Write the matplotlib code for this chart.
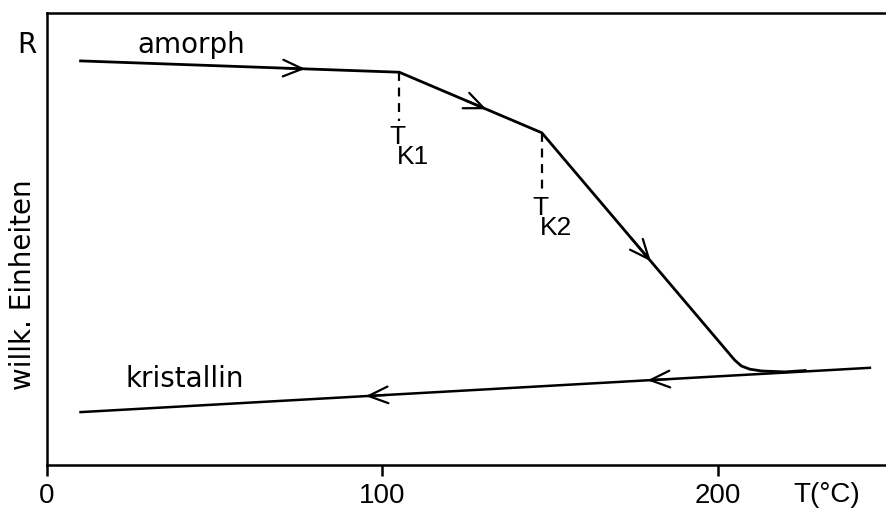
import numpy as np
import matplotlib
matplotlib.use("Agg")
import matplotlib.pyplot as plt

# curve data (T in deg C, R in arbitrary units)
amorph_T = [10, 105, 147.5, 205, 207, 209.5, 213, 220, 226]
amorph_R = [89.4, 86.9, 73.5, 23.2, 21.9, 21.2, 20.8, 20.6, 20.9]
krist_T = [10, 245.3]
krist_R = [11.7, 21.5]

# arrow tips on each curve
amorph_arrow_T = [77, 131, 180]
krist_arrow_T = [179, 95]

# crystallisation temperatures and bottom ends of the dashed markers
tk_T = [105, 147.5]
tk_R = [86.9, 73.5]
tk_bottom = [76.1, 60.4]
tk_names = ["K1", "K2"]

xticks = [0, 100, 200]

WORD = dict(family="DejaVu Sans", fontsize=20)
NUM = dict(family="Liberation Sans", fontsize=20)

fig = plt.figure(figsize=(8.86, 5.11), dpi=100)
ax = fig.add_axes([47 / 886, 46 / 511, 839 / 886, 452 / 511])
ax.set_xlim(0, 250.1)
ax.set_ylim(0, 100)

for s in ["left", "bottom", "top"]:
    ax.spines[s].set_linewidth(1.8)
ax.spines["right"].set_visible(False)

ax.set_xticks(xticks)
ax.set_xticklabels([str(t) for t in xticks], **NUM)
ax.tick_params(axis="x", direction="out", length=8, width=1.8, pad=5)
ax.set_yticks([])

ax.plot(amorph_T, amorph_R, color="black", lw=2.0, solid_joinstyle="round")
ax.plot(krist_T, krist_R, color="black", lw=1.8)


def arrow_on(xs, ys, tips, direction):
    for t in tips:
        tail = t - 6 * direction
        ax.annotate("", xy=(t, np.interp(t, xs, ys)),
                    xytext=(tail, np.interp(tail, xs, ys)),
                    arrowprops=dict(arrowstyle="->,head_length=1.4,head_width=0.6",
                                    lw=1.6, color="black",
                                    shrinkA=0, shrinkB=0))


arrow_on(amorph_T, amorph_R, amorph_arrow_T, +1)
arrow_on(krist_T, krist_R, krist_arrow_T, -1)

for t, r, b, name in zip(tk_T, tk_R, tk_bottom, tk_names):
    ax.plot([t, t], [r, b], color="black", lw=1.6, ls=(0, (4, 3)))
    ax.annotate("T", xy=(t, b), xytext=(-1, -3), textcoords="offset points",
                ha="center", va="top", family="Liberation Sans", fontsize=19)
    ax.annotate(name, xy=(t, b), xytext=(-1.5, -26), textcoords="offset points",
                ha="left", va="center", family="Liberation Sans", fontsize=19)

ax.text(43, 93, "amorph", ha="center", va="center", **WORD)
ax.text(41, 19, "kristallin", ha="center", va="center", **WORD)

ax.text(-0.024, 0.929, "R", transform=ax.transAxes, ha="center", va="center", **WORD)
ax.text(-0.029, 0.398, "willk. Einheiten", transform=ax.transAxes,
        rotation=90, ha="center", va="center", **WORD)
ax.text(232.5, -0.066, "T(°C)", transform=ax.get_xaxis_transform(),
        ha="center", va="center", **NUM)

fig.savefig("out.png", dpi=100)
